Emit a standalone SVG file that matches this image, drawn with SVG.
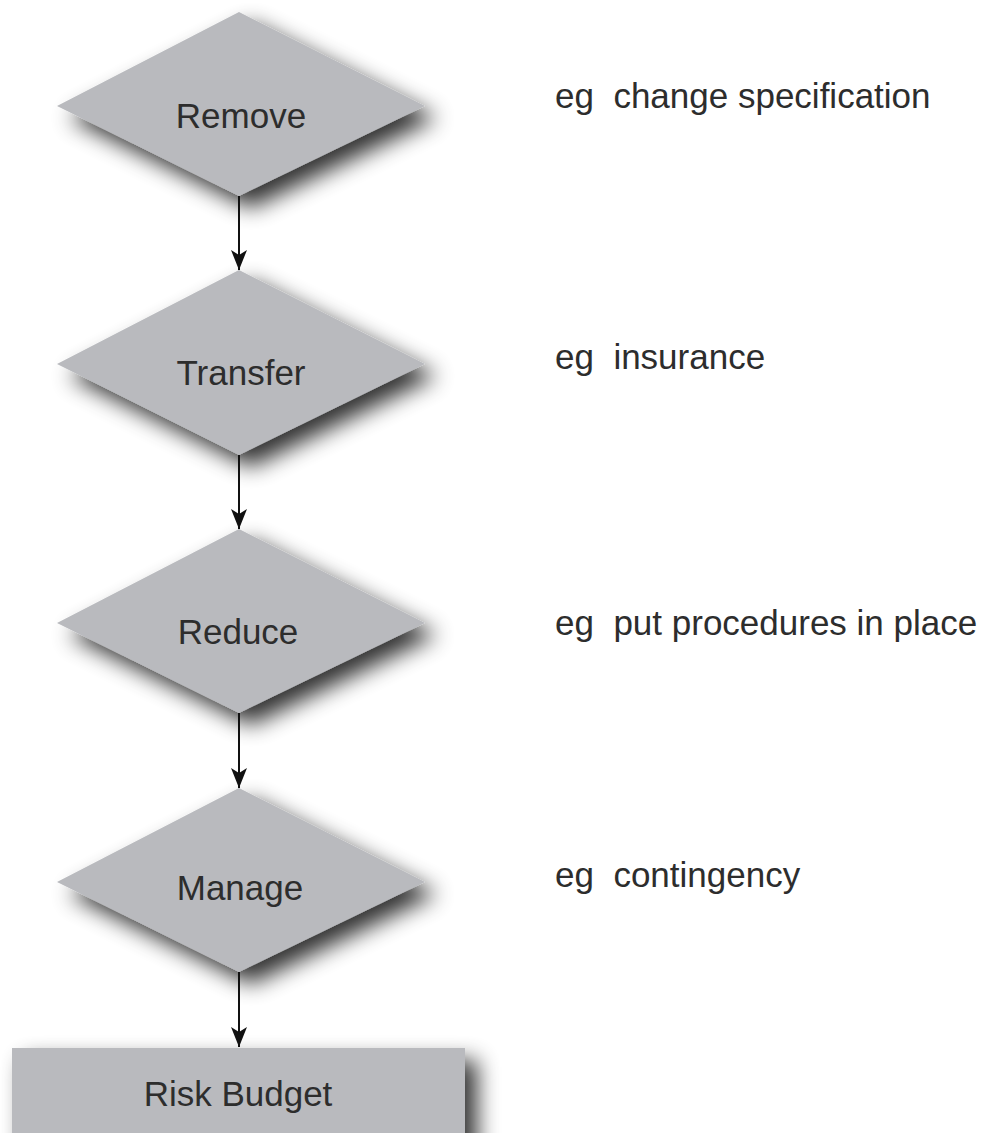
<svg xmlns="http://www.w3.org/2000/svg" width="992" height="1133" viewBox="0 0 992 1133">
  <defs>
    <filter id="shadow" x="-25%" y="-25%" width="160%" height="160%">
      <feGaussianBlur in="SourceAlpha" stdDeviation="11"/>
      <feOffset dx="12" dy="12" result="blur"/>
      <feComponentTransfer in="blur" result="soft">
        <feFuncA type="linear" slope="0.8"/>
      </feComponentTransfer>
      <feMerge>
        <feMergeNode in="soft"/>
        <feMergeNode in="SourceGraphic"/>
      </feMerge>
    </filter>
    <marker id="arrow" viewBox="0 0 20 16" refX="20" refY="8" markerWidth="20" markerHeight="16" markerUnits="userSpaceOnUse" orient="auto">
      <path d="M0,0 L20,8 L0,16 L5,8 Z" fill="#111"/>
    </marker>
  </defs>
  <style>
    .shape { fill: #b9babe; filter: url(#shadow); }
    .label { font-family: "Liberation Sans", Arial, sans-serif; font-size: 35px; fill: #2d2d2d; text-anchor: middle; }
    .note { font-family: "Liberation Sans", Arial, sans-serif; font-size: 35px; fill: #2d2d2d; white-space: pre; }
    .conn { stroke: #111; stroke-width: 2; fill: none; marker-end: url(#arrow); }
  </style>
  <rect width="992" height="1133" fill="#ffffff"/>

  <!-- flow steps -->
  <g id="remove">
    <polygon class="shape" points="239,12 425,106 239,196 57,106"/>
    <text class="label" x="241" y="128">Remove</text>
  </g>
  <g id="transfer">
    <polygon class="shape" points="239,270 425,364 239,455 57,364"/>
    <text class="label" x="241" y="385">Transfer</text>
  </g>
  <g id="reduce">
    <polygon class="shape" points="239,529 425,623 239,713 57,623"/>
    <text class="label" x="238" y="644">Reduce</text>
  </g>
  <g id="manage">
    <polygon class="shape" points="239,788 425,882 239,972 57,882"/>
    <text class="label" x="240" y="900">Manage</text>
  </g>
  <g id="risk-budget">
    <rect class="shape" x="12" y="1048" width="453" height="110"/>
    <text class="label" x="238" y="1106">Risk Budget</text>
  </g>

  <!-- examples -->
  <g id="notes">
    <text class="note" x="555" y="108">eg  change specification</text>
    <text class="note" x="555" y="369">eg  insurance</text>
    <text class="note" x="555" y="635">eg  put procedures in place</text>
    <text class="note" x="555" y="887">eg  contingency</text>
  </g>

  <!-- connectors -->
  <g id="connectors">
    <line class="conn" x1="239" y1="196" x2="239" y2="270"/>
    <line class="conn" x1="239" y1="455" x2="239" y2="529"/>
    <line class="conn" x1="239" y1="713" x2="239" y2="788"/>
    <line class="conn" x1="239" y1="972" x2="239" y2="1047"/>
  </g>
</svg>
